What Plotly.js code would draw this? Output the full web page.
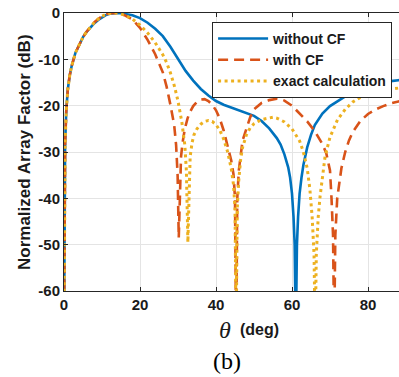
<!DOCTYPE html>
<html>
<head>
<meta charset="utf-8">
<script src="https://cdn.plot.ly/plotly-3.0.1.min.js"></script>
<style>
html,body{margin:0;padding:0;overflow:hidden;background:#fff;}
#chart{width:420px;height:377px;}
</style>
</head>
<body>
<div id="chart"></div>
<script>
// ---- data ----
const thetaNoCF = [0, 0.1, 0.3, 0.6, 1, 1.5, 2, 3, 4, 5, 6, 7, 8, 9, 10, 11, 12, 13, 14, 15, 16, 18, 20, 22, 24, 26, 28, 30, 32, 34, 36, 38, 40, 42, 44, 46, 48, 50, 52, 54, 56, 57, 58, 59, 59.5, 60, 60.4, 60.7, 61, 61.3, 61.6, 62, 62.5, 63, 64, 65, 66, 68, 70, 72, 74, 76, 78, 80, 82, 84, 86, 88, 90];
const afNoCF = [-70, -38, -28, -21, -16.5, -13.5, -11.5, -8.6, -6.7, -5.2, -4.0, -3.0, -2.2, -1.5, -0.9, -0.45, -0.15, 0, 0, -0.05, -0.15, -0.5, -1.1, -2.1, -3.4, -5.0, -7.3, -9.9, -12.5, -14.6, -16.4, -17.8, -19.0, -19.8, -20.4, -20.9, -21.5, -22.2, -23.3, -24.9, -27.0, -28.4, -30.5, -33.3, -35.5, -39, -44, -50, -70, -50, -44, -39, -35.5, -32.8, -29, -26.3, -24.2, -21.7, -20.1, -19.0, -18.0, -17.2, -16.5, -15.9, -15.4, -15.0, -14.7, -14.5, -14.3];

const thetaCF = [0, 0.1, 0.3, 0.6, 1, 1.5, 2, 3, 4, 5, 6, 7, 8, 9, 10, 11, 12, 12.5, 14, 16, 18, 20, 22, 24, 26, 27, 28, 29, 29.5, 29.9, 30.2, 30.5, 30.8, 31.2, 31.8, 32.5, 33, 34, 35, 36, 37, 38, 39, 40, 41, 42, 43, 44, 44.6, 45, 45.3, 45.6, 46, 46.5, 47, 48, 49, 50, 52, 54, 56, 57, 58, 60, 62, 64, 66, 68, 69, 70, 70.4, 70.8, 71.1, 71.4, 71.9, 72.5, 73, 74, 75, 76, 78, 80, 82, 84, 86, 88, 90];
const afCF = [-70, -38, -28, -21, -16.5, -13.5, -11.5, -8.6, -6.7, -5.2, -4.0, -2.9, -2.0, -1.3, -0.7, -0.3, -0.05, 0, -0.05, -0.5, -1.4, -3.2, -5.8, -8.9, -12.8, -15.9, -19.8, -24.2, -28.5, -35, -48.5, -36, -31, -28, -25, -22.8, -21.6, -20.1, -19.2, -18.7, -18.6, -19.0, -19.8, -21, -22.8, -25.3, -28.3, -31.8, -34.8, -40, -70, -40, -34, -30, -27.5, -25, -22.5, -20.8, -19.4, -18.8, -18.5, -18.6, -18.9, -20, -21.6, -23.4, -25.5, -28.3, -30.2, -34, -40, -48, -70, -48, -40, -36, -33.5, -30, -27.5, -25.7, -23.3, -21.8, -20.8, -20.1, -19.5, -19.1, -18.8];

const thetaExact = [0, 0.1, 0.3, 0.6, 1, 1.5, 2, 3, 4, 5, 6, 7, 8, 9, 10, 11, 12, 12.8, 14, 16, 18, 20, 22, 24, 26, 27, 28, 29, 30, 31, 31.8, 32.2, 32.6, 32.9, 33.2, 33.7, 34.2, 35, 36, 37, 38, 39, 40, 41, 42, 43, 44, 44.6, 45, 45.3, 45.6, 46, 46.5, 47, 48, 49, 50, 52, 54, 55, 56, 58, 60, 61, 62, 63, 64, 64.7, 65.3, 65.8, 66.1, 66.4, 66.9, 67.4, 68, 68.7, 70, 72, 74, 76, 78, 80, 82, 84, 86, 88, 90];
const afExact = [-70, -38, -28, -21, -16.5, -13.5, -11.5, -8.6, -6.7, -5.2, -4.0, -2.9, -2.0, -1.3, -0.7, -0.3, -0.05, 0, -0.05, -0.45, -1.3, -2.6, -4.3, -6.4, -9.0, -10.7, -12.9, -15.6, -19, -23.5, -28.5, -34, -49.5, -36, -31, -28, -26.3, -25, -24, -23.4, -23.2, -23.4, -24.1, -25.3, -27.2, -29.8, -33.5, -37, -42, -70, -42, -36, -31.5, -29, -26.3, -24.8, -23.9, -23.0, -22.6, -22.5, -22.7, -23.5, -25, -26.2, -27.6, -30, -33.5, -38, -44, -52, -70, -52, -44, -39.5, -35, -31, -26.8, -23, -20.8, -19.2, -18.2, -17.6, -17.1, -16.7, -16.4, -16.2, -16];

const seriesNames = ['without CF', 'with CF', 'exact calculation'];
const xTickVals = [0, 20, 40, 60, 80];
const xTickText = ['0', '20', '40', '60', '80'];
const yTickVals = [0, -10, -20, -30, -40, -50, -60];
const yTickText = ['0', '-10', '-20', '-30', '-40', '-50', '-60'];

const SANS = 'Liberation Sans, Arial, sans-serif';
const SERIF = 'Liberation Serif, Times New Roman, serif';

const traces = [
  {x: thetaNoCF, y: afNoCF, name: seriesNames[0], type: 'scatter', mode: 'lines',
   line: {color: '#0072BD', width: 2.6}},
  {x: thetaCF, y: afCF, name: seriesNames[1], type: 'scatter', mode: 'lines',
   line: {color: '#D95319', width: 2.6, dash: '10px,6px'}},
  {x: thetaExact, y: afExact, name: seriesNames[2], type: 'scatter', mode: 'lines',
   line: {color: '#EDB120', width: 3, dash: '3px,3.5px'}}
];

const axisCommon = {
  showgrid: true, gridcolor: '#e4e4e4', gridwidth: 1,
  zeroline: false, showline: true, linecolor: '#262626', linewidth: 1,
  mirror: 'ticks', ticks: 'inside', ticklen: 4, tickcolor: '#262626',
  tickfont: {family: SANS, size: 15, color: '#1a1a1a', weight: 'bold'}
};

const layout = {
  width: 420, height: 377,
  margin: {l: 64, r: 14, t: 13, b: 86},
  paper_bgcolor: '#ffffff', plot_bgcolor: '#ffffff',
  showlegend: true,
  legend: {
    x: 0.433, y: 0.968, xanchor: 'left', yanchor: 'top',
    bgcolor: '#ffffff', bordercolor: '#262626', borderwidth: 1,
    font: {family: SANS, size: 14, color: '#1a1a1a', weight: 'bold'},
    itemwidth: 50, tracegroupgap: 0
  },
  xaxis: Object.assign({}, axisCommon, {
    range: [0, 90], tickmode: 'array', tickvals: xTickVals, ticktext: xTickText
  }),
  yaxis: Object.assign({}, axisCommon, {
    range: [-60, 0], tickmode: 'array', tickvals: yTickVals, ticktext: yTickText
  }),
  annotations: [
    {text: 'Normalized Array Factor (dB)', xref: 'paper', yref: 'paper',
     x: -0.117, y: 0.5, xanchor: 'center', yanchor: 'middle', textangle: -90,
     showarrow: false, font: {family: SANS, size: 17, color: '#1a1a1a', weight: 'bold'}},
    {text: 'θ', xref: 'paper', yref: 'paper', x: 0.471, y: -0.14,
     xanchor: 'center', yanchor: 'middle', showarrow: false,
     font: {family: SERIF, size: 24, color: '#1a1a1a', style: 'italic'}},
    {text: '(deg)', xref: 'paper', yref: 'paper', x: 0.573, y: -0.14,
     xanchor: 'center', yanchor: 'middle', showarrow: false,
     font: {family: SANS, size: 16, color: '#1a1a1a', weight: 'bold'}},
    {text: '(b)', xref: 'paper', yref: 'paper', x: 0.477, y: -0.252,
     xanchor: 'center', yanchor: 'middle', showarrow: false,
     font: {family: SERIF, size: 24, color: '#000000'}}
  ]
};

Plotly.newPlot('chart', traces, layout, {displayModeBar: false, staticPlot: true});
</script>
</body>
</html>
